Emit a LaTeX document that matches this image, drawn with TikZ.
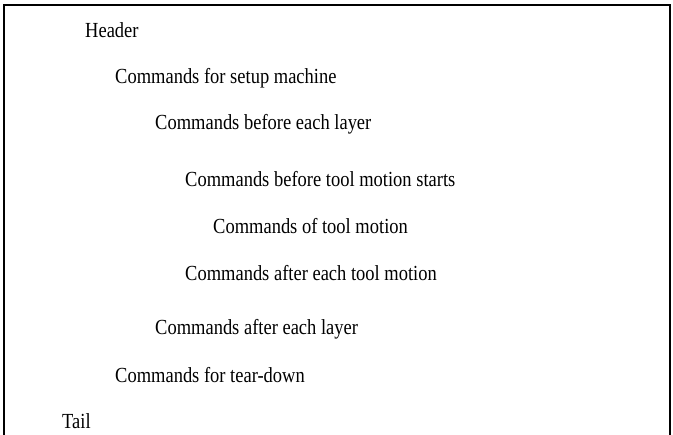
\documentclass[tikz,border=0pt]{standalone}
\usepackage{fontspec}
\setmainfont[FakeStretch=0.86]{Liberation Serif}
\begin{document}
\begin{tikzpicture}[x=1pt,y=-1pt,
  line/.style={anchor=base west,inner sep=0pt,font=\fontsize{21.5}{24}\selectfont},
  frame/.style={line width=1.3pt,black}]
\useasboundingbox (0,0) rectangle (673,435);
% open frame: top, left and right sides only
\draw[frame] (4,440) -- (4,5) -- (670,5) -- (670,440);
\node[line] (h)  at (85,38)  {Header};
\node[line] (s)  at (115,84) {Commands for setup machine};
\node[line] (bl) at (155,130) {Commands before each layer};
\node[line] (bt) at (185,187) {Commands before tool motion starts};
\node[line] (tm) at (213,234) {Commands of tool motion};
\node[line] (at) at (185,281) {Commands after each tool motion};
\node[line] (al) at (155,335) {Commands after each layer};
\node[line] (td) at (115,383) {Commands for tear-down};
\node[line] (t)  at (62,429) {Tail};
\end{tikzpicture}
\end{document}
